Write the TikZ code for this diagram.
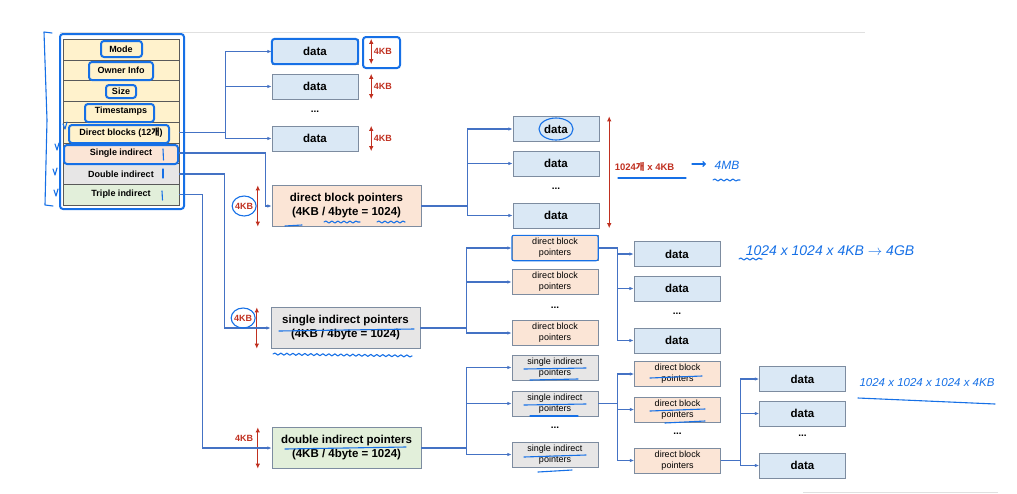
\documentclass[tikz,border=0pt]{standalone}
\usepackage{fontspec}
\setmainfont{Liberation Sans}
\newfontfamily\krfont{Noto Sans CJK KR}
\usepackage{xcolor}
\definecolor{linkblue}{RGB}{68,114,196}
\definecolor{sizered}{RGB}{192,48,32}
\definecolor{penblue}{RGB}{22,112,230}
\definecolor{datafill}{RGB}{218,232,245}
\definecolor{ptrfill}{RGB}{251,229,214}
\definecolor{sinfill}{RGB}{231,230,230}
\definecolor{dinfill}{RGB}{226,239,218}
\definecolor{inodefill}{RGB}{255,242,204}
\definecolor{boxline}{RGB}{125,140,160}
\usetikzlibrary{arrows.meta}
\usetikzlibrary{decorations.pathmorphing}
\usetikzlibrary{calc}

\begin{document}
\begin{tikzpicture}[x = 1pt, y = -1pt,
	inrow/.style = {draw = black!65, minimum width = 116, minimum height = 20.75, inner sep = 0, font = \fontsize{9}{9}\selectfont\bfseries},
	datablk/.style = {draw = boxline, fill = datafill, minimum width = 86, minimum height = 25, font = \fontsize{11.5}{12}\selectfont\bfseries},
	bigptr/.style = {draw = boxline, minimum width = 149, minimum height = 41, inner sep = 1, align = center, font = \fontsize{11.5}{14}\selectfont\bfseries},
	smallptr/.style = {draw = boxline, minimum width = 86, minimum height = 25, inner sep = 1, align = center, font = \fontsize{9}{11}\selectfont},
	dots/.style = {font = \fontsize{10}{10}\selectfont\bfseries},
	link/.style = {linkblue, line width = 1.3, -{Latex[length = 4.5pt, width = 3.5pt]}},
	sizearr/.style = {sizered, line width = 1.3, {Latex[length = 5pt, width = 4.5pt]}-{Latex[length = 5pt, width = 4.5pt]}},
	sizelbl/.style = {text = sizered, inner sep = 2, font = \fontsize{9}{9}\selectfont\bfseries},
	pen/.style = {penblue, line width = 1.1, line cap = round, line join = round},
	wavy/.style = {pen, decorate, decoration = {snake, amplitude = 1, segment length = 6}},
	pentext/.style = {text = penblue, inner sep = 0, font = \fontsize{12}{13}\selectfont\itshape},
	hl/.style = {draw = penblue, line width = 2, rounded corners = 3}]

	\useasboundingbox (0,0) rectangle (1017,493);
	\draw [black!12] (60,32) -- (865,32);
	\draw [black!12] (803,492) -- (998,492);

	% inode
	\node (mode)   [inrow, fill = inodefill] at (121,49.4)  {Mode};
	\node (owner)  [inrow, fill = inodefill] at (121,70.1)  {Owner Info};
	\node (size)   [inrow, fill = inodefill] at (121,90.9)  {Size};
	\node (times)  [inrow, fill = inodefill] at (121,111.6) {Timestamps};
	\node (direct) [inrow, fill = inodefill] at (121,132.4) {Direct blocks (12{\krfont 개})};
	\node (single) [inrow, fill = ptrfill]   at (121,153.1) {Single indirect};
	\node (double) [inrow, fill = sinfill]   at (121,173.9) {Double indirect};
	\node (triple) [inrow, fill = dinfill]   at (121,194.6) {Triple indirect};

	% direct blocks
	\node (d1)    [datablk] at (315,51.5)  {data};
	\node (d2)    [datablk] at (315,86.5)  {data};
	\node (ddots) [dots]    at (315,112)   {...};
	\node (d3)    [datablk] at (315,138.5) {data};

	\draw [sizearr] ([xshift = 13]d1.north east) -- ([xshift = 13]d1.south east) node (kbd1) [sizelbl, midway, right] {4KB};
	\draw [sizearr] ([xshift = 13]d2.north east) -- ([xshift = 13]d2.south east) node (kbd2) [sizelbl, midway, right] {4KB};
	\draw [sizearr] ([xshift = 13]d3.north east) -- ([xshift = 13]d3.south east) node (kbd3) [sizelbl, midway, right] {4KB};

	% pointer blocks
	\node (dbp) [bigptr, fill = ptrfill] at (346.5,206) {direct block pointers\\(4KB / 4byte = 1024)};
	\node (sip) [bigptr, fill = sinfill] at (345.5,328) {single indirect pointers\\(4KB / 4byte = 1024)};
	\node (dip) [bigptr, fill = dinfill] at (346.5,448) {double indirect pointers\\(4KB / 4byte = 1024)};

	\draw [sizearr] ([xshift = -14]dbp.north west) -- ([xshift = -14]dbp.south west) node (kbdbp) [sizelbl, midway, left, xshift = -2] {4KB};
	\draw [sizearr] ([xshift = -14]sip.north west) -- ([xshift = -14]sip.south west) node (kbsip) [sizelbl, midway, left, xshift = -2, yshift = 10] {4KB};
	\draw [sizearr] ([xshift = -14]dip.north west) -- ([xshift = -14]dip.south west) node (kbdip) [sizelbl, midway, left, xshift = -2, yshift = 10] {4KB};

	% behind direct block pointers
	\node (t1)    [datablk] at (556,129)   {data};
	\node (t2)    [datablk] at (556,163.5) {data};
	\node (tdots) [dots]    at (556,189)   {...};
	\node (t3)    [datablk] at (556,215.5) {data};

	\draw [sizearr] ([xshift = 10]t1.north east) -- ([xshift = 10]t3.south east) node (kbmb) [sizelbl, pos = 0.455, right, xshift = 3, font = \fontsize{9.5}{10}\selectfont\bfseries] {1024{\krfont 개} x 4KB};

	% behind single indirect pointers
	\node (p1)    [smallptr, fill = ptrfill] at (555,248) {direct block\\pointers};
	\node (p2)    [smallptr, fill = ptrfill] at (555,282) {direct block\\pointers};
	\node (pdots) [dots]                     at (555,308) {...};
	\node (p3)    [smallptr, fill = ptrfill] at (555,333) {direct block\\pointers};

	\node (e1)    [datablk] at (677,254)   {data};
	\node (e2)    [datablk] at (677,288.5) {data};
	\node (edots) [dots]    at (677,314)   {...};
	\node (e3)    [datablk] at (677,340.5) {data};

	% behind double indirect pointers
	\node (s1)    [smallptr, fill = sinfill] at (555,367.5) {single indirect\\pointers};
	\node (s2)    [smallptr, fill = sinfill] at (555,403.5) {single indirect\\pointers};
	\node (sdots) [dots]                     at (555,428)   {...};
	\node (s3)    [smallptr, fill = sinfill] at (555,454.5) {single indirect\\pointers};

	\node (q1)    [smallptr, fill = ptrfill] at (677.5,374)   {direct block\\pointers};
	\node (q2)    [smallptr, fill = ptrfill] at (677.5,409.5) {direct block\\pointers};
	\node (qdots) [dots]                     at (677.5,434)   {...};
	\node (q3)    [smallptr, fill = ptrfill] at (677.5,460.5) {direct block\\pointers};

	\node (f1)    [datablk] at (802.5,379)   {data};
	\node (f2)    [datablk] at (802.5,413.5) {data};
	\node (fdots) [dots]    at (802.5,436)   {...};
	\node (f3)    [datablk] at (802.5,465.5) {data};

	% links
	\draw [link] (direct.east) -- ++(46,0) |- (d1.west);
	\draw [link] (direct.east) -- ++(46,0) |- (d2.west);
	\draw [link] (direct.east) -- ++(46,0) |- (d3.west);
	\draw [link] (single.east) -- ++(86,0) |- (dbp.west);
	\draw [link] (double.east) -- ++(45,0) |- (sip.west);
	\draw [link] (triple.east) -- ++(23,0) |- (dip.west);

	\draw [link] (dbp.east) -- ++(46,0) |- (t1.west);
	\draw [link] (dbp.east) -- ++(46,0) |- (t2.west);
	\draw [link] (dbp.east) -- ++(46,0) |- (t3.west);

	\draw [link] (sip.east) -- ++(46,0) |- (p1.west);
	\draw [link] (sip.east) -- ++(46,0) |- (p2.west);
	\draw [link] (sip.east) -- ++(46,0) |- (p3.west);
	\draw [link] (p1.east) -- ++(19,0) |- (e1.west);
	\draw [link] (p1.east) -- ++(19,0) |- (e2.west);
	\draw [link] (p1.east) -- ++(19,0) |- (e3.west);

	\draw [link] (dip.east) -- ++(45,0) |- (s1.west);
	\draw [link] (dip.east) -- ++(45,0) |- (s2.west);
	\draw [link] (dip.east) -- ++(45,0) |- (s3.west);
	\draw [link] (s2.east) -- ++(19,0) |- (q1.west);
	\draw [link] (s2.east) -- ++(19,0) |- (q2.west);
	\draw [link] (s2.east) -- ++(19,0) |- (q3.west);
	\draw [link] (q3.east) -- ++(20,0) |- (f1.west);
	\draw [link] (q3.east) -- ++(20,0) |- (f2.west);
	\draw [link] (q3.east) -- ++(20,0) |- (f3.west);

	% pen marks
	\draw [hl] (60,34) rectangle (184,209);
	\draw [hl] (101,41) rectangle (142,57);
	\draw [hl] (89,62) rectangle (153,80);
	\draw [hl] (106,85) rectangle (136,98);
	\draw [hl] (85,104) rectangle (154,122);
	\draw [hl] (69,125) rectangle (169,143);
	\draw [hl] (64,145) rectangle (178,164);
	\draw [hl] (d1.north west) rectangle (d1.south east);
	\draw [hl] (363,37) rectangle (400,68);

	\draw [pen] (52,33) -- (44,32) -- (47,120) -- (45,205) -- (53,206);
	\draw [pen] (63,124) -- (65,129) -- (67,122);
	\draw [pen] (55,144) -- (57,150) -- (59,143);
	\draw [pen] (53,169) -- (55,175) -- (57,168);
	\draw [pen] (54,190) -- (56,196) -- (58,189);
	\draw [pen] (163,149) -- (163.5,160);
	\draw [pen] (163,169) -- (163,178);
	\draw [pen] (162,191) -- (162.5,200);

	\draw [pen] (kbdbp) ellipse (12 and 10);
	\draw [pen] (kbsip) ellipse (12 and 10);
	\draw [pen] (285,226) -- (302,225);
	\draw [wavy] (324,222) -- (360,222);
	\draw [wavy] (377,222) -- (405,222);
	\draw [pen] (279,331) -- (414,329);
	\draw [wavy] (273,354) -- (412,356);
	\draw [pen] (285,449) -- (406,447);

	\draw [pen] (t1) ellipse (17 and 11);
	\draw [pen, rounded corners = 2] (p1.north west) rectangle (p1.south east);
	\draw [pen] (524,369) -- (586,368);
	\draw [pen] (530,380) -- (578,379);
	\draw [pen] (524,405) -- (586,404);
	\draw [pen] (530,416) -- (578,416);
	\draw [pen] (524,457) -- (586,455);
	\draw [pen] (538,472) -- (572,470);
	\draw [pen] (650,378) -- (702,376);
	\draw [pen] (650,411) -- (705,409);
	\draw [pen] (665,423) -- (705,421);

	\draw [pen] (618,178) -- (686,178);
	\draw [pen, -{Straight Barb[length = 2.5pt, width = 5pt]}] (692,164) -- (706,164);
	\node (mb)  [pentext] at (727,165) {4MB};
	\draw [wavy] (713,180) -- (740,180);
	\node (gb)  [pentext, font = \fontsize{14}{15}\selectfont\itshape] at (830,251) {1024 x 1024 x 4KB $\rightarrow$ 4GB};
	\draw [wavy] (739,259) -- (762,259);
	\node (tb)  [pentext, font = \fontsize{11.5}{12}\selectfont\itshape] at (927,383) {1024 x 1024 x 1024 x 4KB};
	\draw [pen] (858,398) -- (995,404);

\end{tikzpicture}
\end{document}
